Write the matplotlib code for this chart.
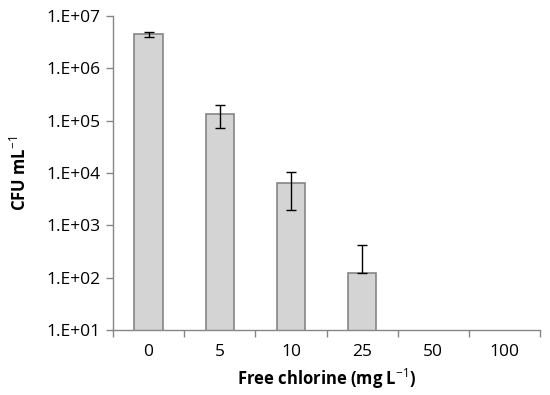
import numpy as np
import matplotlib
matplotlib.use("Agg")
import matplotlib.pyplot as plt

plt.rcParams['font.family'] = ['Open Sans', 'DejaVu Sans']
plt.rcParams['mathtext.fontset'] = 'custom'
plt.rcParams['mathtext.rm'] = 'Open Sans'
plt.rcParams['mathtext.bf'] = 'Open Sans:bold'

# data (CFU per mL, mean and error)
chlorine = ['0', '5', '10', '25', '50', '100']
cfu = [4.5e6, 1.36e5, 6.3e3, 125, np.nan, np.nan]
err = [5e5, 6.2e4, 4.3e3, 290, np.nan, np.nan]

cfu = np.array(cfu)
err = np.array(err)
# Excel leaves out the lower bar when it would go below zero
lower = np.where(err < cfu, err, 0)

fig = plt.figure(figsize=(5.5, 3.95), dpi=100)
ax = fig.add_axes([0.2055, 0.1646, 0.7765, 0.7949])

x = np.arange(len(chlorine))
ax.bar(x, cfu, width=0.4, color='#d4d4d4', edgecolor='#858585', linewidth=1.2, zorder=2)
ax.errorbar(x, cfu, yerr=[lower, err], fmt='none', ecolor='black',
            elinewidth=1, capsize=3.5, capthick=1, zorder=3)

ax.set_yscale('log')
ax.set_ylim(10, 1e7)
ax.set_xlim(-0.5, len(chlorine) - 0.5)

yt = [1e1, 1e2, 1e3, 1e4, 1e5, 1e6, 1e7]
ax.set_yticks(yt)
ax.set_yticklabels(['1.E+%02d' % int(np.log10(v)) for v in yt], fontsize=12.5)
ax.yaxis.set_minor_locator(matplotlib.ticker.NullLocator())

ax.set_xticks(x)
ax.set_xticklabels(chlorine, fontsize=12.5)
ax.set_xticks(np.arange(-0.5, len(chlorine)), minor=True)
ax.tick_params(axis='x', which='major', length=0, pad=10)
ax.tick_params(axis='x', which='minor', length=5, color='#868686', width=1)
ax.tick_params(axis='y', length=5, color='#868686', width=1, pad=4)

for s in ['top', 'right']:
    ax.spines[s].set_visible(False)
for s in ['left', 'bottom']:
    ax.spines[s].set_color('#868686')
    ax.spines[s].set_linewidth(1)

ax.set_ylabel('CFU mL$^{\\mathrm{-1}}$', fontsize=12, fontweight='bold', labelpad=12)
ax.set_xlabel('Free chlorine (mg L$^{\\mathrm{-1}}$)', fontsize=12, fontweight='bold', labelpad=5)

fig.savefig('out.png', dpi=100)
